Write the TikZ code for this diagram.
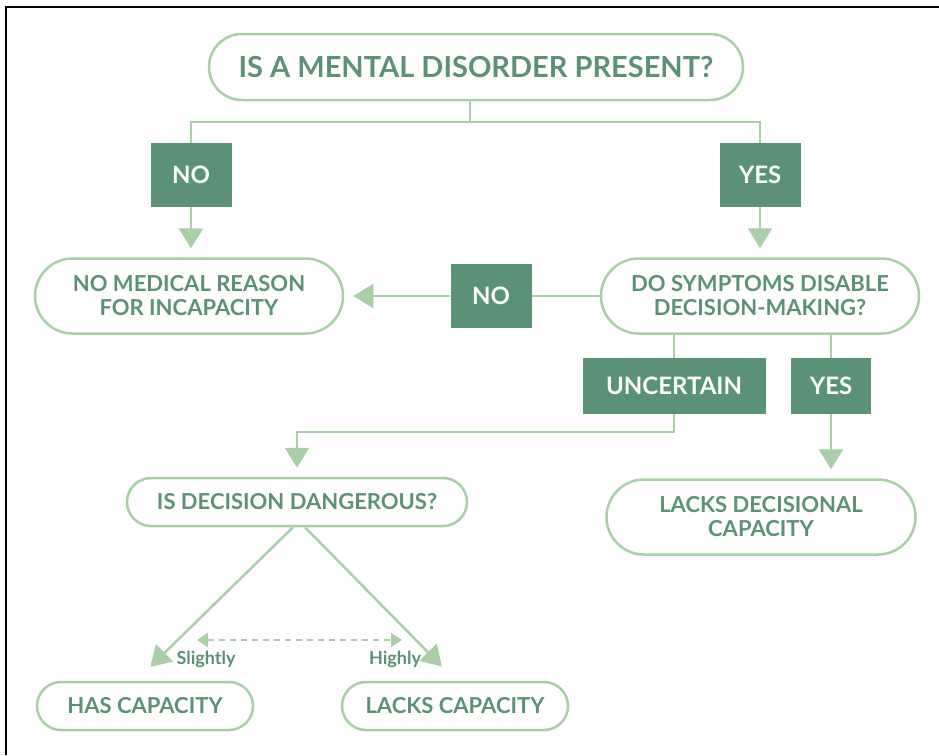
\documentclass[tikz,border=0pt]{standalone}
\usepackage{fontspec}
\setmainfont{Lato}
\usetikzlibrary{arrows.meta,shapes.misc}
\definecolor{leafgreen}{HTML}{5B9275}
\definecolor{palegreen}{HTML}{A8CFA6}
\tikzset{
  pill/.style={rounded rectangle, draw=palegreen, line width=2.5pt,
    text=leafgreen, font=\fontsize{22}{24}\selectfont\bfseries,
    align=center, inner sep=0pt},
  answer/.style={rectangle, fill=leafgreen, text=white, inner sep=0pt,
    font=\fontsize{24}{26}\selectfont\bfseries},
  link/.style={draw=palegreen, line width=2.5pt},
  linkarrow/.style={link, -{Triangle[width=24pt,length=20pt]}, shorten >=9pt},
  hint/.style={text=leafgreen, font=\fontsize{18}{20}\selectfont\bfseries}
}
\begin{document}
\begin{tikzpicture}[x=1pt,y=-1pt]
  \useasboundingbox (0,0) rectangle (939,755);
  \draw[line width=2pt] (6,755) -- (6,7) -- (939,7);

  % questions and outcomes
  \node[pill, minimum width=534pt, minimum height=66pt,
        font=\fontsize{29}{30}\selectfont\bfseries] (present) at (476,67) {IS A MENTAL DISORDER PRESENT?};
  \node[pill, minimum width=308pt, minimum height=75pt] (noreason) at (189,296) {NO MEDICAL REASON\\FOR INCAPACITY};
  \node[pill, minimum width=318pt, minimum height=75pt] (disable) at (760,296) {DO SYMPTOMS DISABLE\\DECISION-MAKING?};
  \node[pill, minimum width=340pt, minimum height=48pt] (danger) at (297,502) {IS DECISION DANGEROUS?};
  \node[pill, minimum width=309pt, minimum height=75pt] (lacksdec) at (761,517) {LACKS DECISIONAL\\CAPACITY};
  \node[pill, minimum width=216pt, minimum height=48pt] (hascap) at (145,706) {HAS CAPACITY};
  \node[pill, minimum width=226pt, minimum height=48pt] (lackscap) at (455,706) {LACKS CAPACITY};

  % answers
  \node[answer, minimum width=81pt, minimum height=64pt] (noA) at (191,175) {NO};
  \node[answer, minimum width=81pt, minimum height=64pt] (yesA) at (760,175) {YES};
  \node[answer, minimum width=81pt, minimum height=64pt] (noB) at (491,296) {NO};
  \node[answer, minimum width=183pt, minimum height=56pt] (unsure) at (674,386) {UNCERTAIN};
  \node[answer, minimum width=80pt, minimum height=56pt] (yesB) at (831,386) {YES};

  \coordinate (fork) at (470,122);
  \coordinate (bend) at (674,432);

  \draw[link] (present.south -| fork) -- (fork);
  \draw[link] (noA.north) -- (noA.north |- fork) -- (yesA.north |- fork) -- (yesA.north);
  \draw[linkarrow] (noA.south) -- (noreason.north -| noA.south);
  \draw[linkarrow] (yesA.south) -- (disable.north);
  \draw[link] (disable.west) -- (noB.east);
  \draw[linkarrow] (noB.west) -- (noreason.east);
  \draw[link] (unsure.north |- disable.south) -- (unsure.north);
  \draw[linkarrow] (unsure.south) -- (bend) -| (danger.north);
  \draw[link] (yesB.north |- disable.south) -- (yesB.north);
  \draw[linkarrow] (yesB.south) -- (yesB.south |- lacksdec.north);
  \draw[linkarrow, shorten >=20pt] ([xshift=-4pt]danger.south) -- ([xshift=-9pt]hascap.north);
  \draw[linkarrow, shorten >=20pt] ([xshift=8pt]danger.south) -- ([xshift=1pt]lackscap.north);

  % degree of danger
  \node[hint] (slightly) at (206,659) {Slightly};
  \node[hint] (highly) at (395,659) {Highly};
  \coordinate (lowend) at (197,640);
  \coordinate (highend) at (402,640);
  \draw[link, dash pattern=on 6pt off 5pt, line width=2pt,
        {Triangle[width=14pt,length=11pt]}-{Triangle[width=14pt,length=11pt]}] (lowend) -- (highend);
\end{tikzpicture}
\end{document}
